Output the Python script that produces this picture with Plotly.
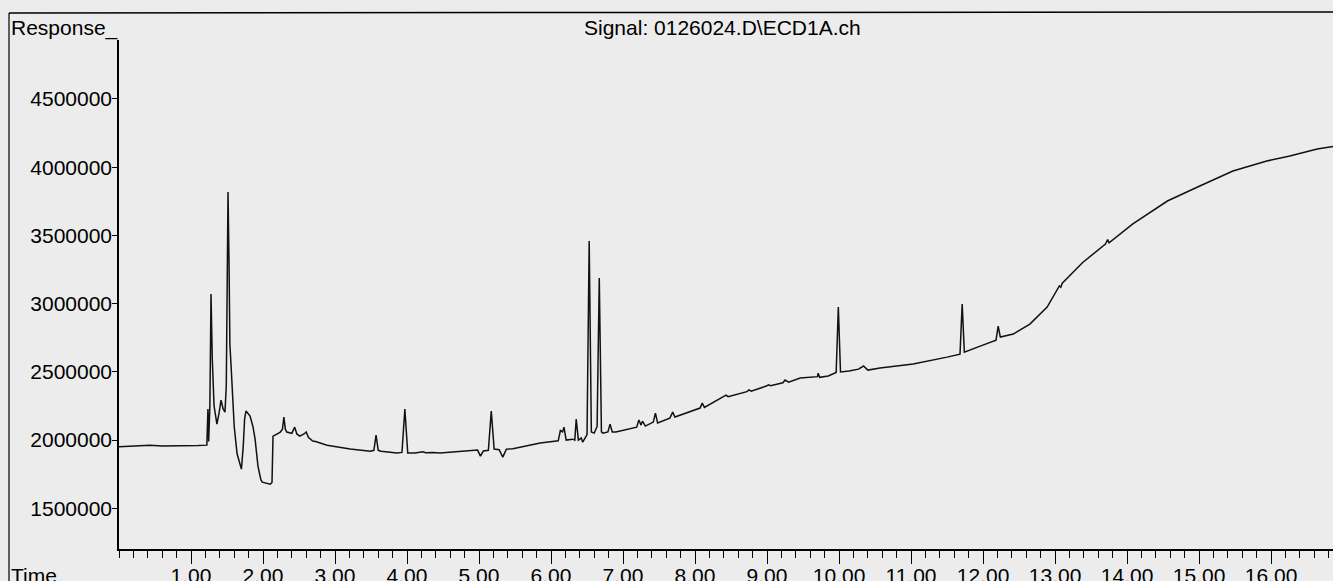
import plotly.graph_objects as go

# Retention time (min) and detector response
time_min = [
    0.00, 0.20, 0.43, 0.60, 0.85, 1.10, 1.22, 1.235, 1.245, 1.262, 1.278, 1.295, 1.32, 1.36,
    1.39, 1.417, 1.445, 1.472, 1.49, 1.514, 1.528, 1.54, 1.556, 1.57, 1.60, 1.64, 1.70,
    1.725, 1.745, 1.764, 1.80, 1.82, 1.86, 1.89, 1.93, 1.97, 1.99, 2.05, 2.10, 2.125,
    2.139, 2.16, 2.20, 2.24, 2.27, 2.29, 2.31, 2.33, 2.40, 2.44, 2.47, 2.51, 2.57, 2.60,
    2.63, 2.69, 2.73, 2.89, 3.21, 3.49, 3.54, 3.57, 3.60, 3.64, 3.86, 3.93, 3.97, 4.01,
    4.11, 4.22, 4.26, 4.36, 4.46, 4.90, 4.98, 5.02, 5.06, 5.13, 5.17, 5.21, 5.28, 5.33,
    5.38, 5.47, 5.85, 6.10, 6.13, 6.16, 6.18, 6.21, 6.30, 6.33, 6.35, 6.38, 6.42, 6.44,
    6.48, 6.50, 6.53, 6.56, 6.60, 6.64, 6.67, 6.70, 6.72, 6.79, 6.82, 6.85, 6.90, 7.19,
    7.22, 7.25, 7.27, 7.31, 7.42, 7.45, 7.48, 7.65, 7.69, 7.72, 8.07, 8.10, 8.13, 8.39,
    8.43, 8.46, 8.72, 8.75, 8.78, 8.99, 9.02, 9.05, 9.22, 9.25, 9.30, 9.46, 9.70, 9.71,
    9.73, 9.85, 9.96, 9.99, 10.02, 10.14, 10.27, 10.34, 10.40, 10.57, 11.03, 11.50, 11.68,
    11.71, 11.74, 11.96, 12.18, 12.21, 12.24, 12.42, 12.65, 12.89, 13.03, 13.06, 13.08,
    13.10, 13.38, 13.70, 13.73, 13.75, 14.08, 14.56, 15.01, 15.47, 15.94, 16.26, 16.64, 16.86,
]
response = [
    1952000, 1955000, 1962000, 1957000, 1956000, 1960000, 1963000, 2227000, 1990000, 2250000,
    3070000, 2600000, 2250000, 2117000, 2200000, 2293000, 2230000, 2205000, 2400000, 3818000,
    3300000, 2700000, 2550000, 2380000, 2100000, 1900000, 1787000, 1950000, 2160000, 2213000,
    2190000, 2176000, 2100000, 2007000, 1809000, 1710000, 1692000, 1682000, 1677000, 1690000,
    2029000, 2035000, 2050000, 2059000, 2080000, 2169000, 2080000, 2059000, 2050000, 2095000,
    2045000, 2029000, 2045000, 2059000, 2020000, 1993000, 1990000, 1963000, 1934000, 1919000,
    1925000, 2037000, 1925000, 1919000, 1905000, 1910000, 2227000, 1905000, 1905000, 1915000,
    1908000, 1910000, 1905000, 1922000, 1927000, 1883000, 1920000, 1925000, 2212000, 1935000,
    1930000, 1875000, 1934000, 1936000, 1978000, 1995000, 2070000, 2060000, 2095000, 2000000,
    2007000, 2000000, 2154000, 2000000, 2015000, 1985000, 2030000, 2040000, 3459000, 2060000,
    2051000, 2100000, 3188000, 2060000, 2051000, 2060000, 2117000, 2059000, 2059000, 2095000,
    2147000, 2110000, 2139000, 2103000, 2132000, 2198000, 2125000, 2161000, 2205000, 2169000,
    2235000, 2271000, 2240000, 2315000, 2330000, 2318000, 2355000, 2368000, 2358000, 2396000,
    2405000, 2398000, 2420000, 2440000, 2425000, 2455000, 2465000, 2490000, 2460000, 2470000,
    2495000, 2975000, 2499000, 2506000, 2520000, 2543000, 2513000, 2528000, 2557000, 2608000,
    2630000, 2997000, 2645000, 2689000, 2733000, 2836000, 2755000, 2777000, 2850000, 2975000,
    3100000, 3130000, 3120000, 3150000, 3300000, 3437000, 3470000, 3445000, 3584000, 3752000,
    3862000, 3972000, 4045000, 4082000, 4133000, 4152000,
]

x_tick_vals = [1, 2, 3, 4, 5, 6, 7, 8, 9, 10, 11, 12, 13, 14, 15, 16]
x_tick_text = ["1.00", "2.00", "3.00", "4.00", "5.00", "6.00", "7.00", "8.00",
               "9.00", "10.00", "11.00", "12.00", "13.00", "14.00", "15.00", "16.00"]
y_tick_vals = [1500000, 2000000, 2500000, 3000000, 3500000, 4000000, 4500000]
y_tick_text = ["1500000", "2000000", "2500000", "3000000", "3500000", "4000000", "4500000"]

title_text = "Signal: 0126024.D\\ECD1A.ch"

W, H = 1333, 581
L, R, T, B = 119, 0, 40, 32
pw, ph = W - L - R, H - T - B


def px_x(p):
    return (p - L) / pw


def px_y(p):
    return (H - B - p) / ph


FONT = "Liberation Sans, Arial, sans-serif"
FS = 21
BG = "#ececec"

fig = go.Figure(go.Scatter(
    x=time_min, y=response, mode="lines",
    line=dict(color="#111111", width=1.5), hoverinfo="skip",
))

fig.update_layout(
    width=W, height=H,
    margin=dict(l=L, r=R, t=T, b=B, pad=0, autoexpand=False),
    paper_bgcolor=BG, plot_bgcolor=BG,
    showlegend=False,
    font=dict(family=FONT, size=FS, color="black"),
    xaxis=dict(
        range=[0, 16.86], showgrid=False, zeroline=False, automargin=False,
        showline=True, linecolor="black", linewidth=1.5,
        tickmode="array", tickvals=x_tick_vals, ticktext=x_tick_text,
        ticks="outside", ticklen=13, tickwidth=1.2, tickcolor="black",
        tickfont=dict(family=FONT, size=FS, color="black"),
        ticklabelstandoff=-6,
        minor=dict(tickmode="linear", tick0=0, dtick=0.2, ticks="outside",
                   ticklen=7, tickwidth=1, tickcolor="black", showgrid=False),
    ),
    yaxis=dict(
        range=[1202000, 4932000], showgrid=False, zeroline=False, automargin=False,
        showline=True, linecolor="black", linewidth=1.5,
        tickmode="array", tickvals=y_tick_vals, ticktext=y_tick_text,
        ticks="outside", ticklen=5, tickwidth=1, tickcolor="black",
        tickfont=dict(family=FONT, size=FS, color="black"),
        ticklabelstandoff=-4,
    ),
    shapes=[
        dict(type="line", xref="paper", yref="paper",
             x0=px_x(9), x1=px_x(9), y0=px_y(13), y1=px_y(H + 5),
             line=dict(color="black", width=1.2)),
        dict(type="line", xref="paper", yref="paper",
             x0=px_x(9), x1=px_x(W + 5), y0=px_y(13), y1=px_y(12),
             line=dict(color="black", width=1.5)),
    ],
    annotations=[
        dict(text="Response_", xref="paper", yref="paper", x=px_x(9), y=px_y(28),
             xanchor="left", yanchor="middle", showarrow=False,
             font=dict(family=FONT, size=FS, color="black")),
        dict(text=title_text, xref="paper", yref="paper", x=px_x(722), y=px_y(27),
             xanchor="center", yanchor="middle", showarrow=False,
             font=dict(family=FONT, size=FS, color="black")),
        dict(text="Time", xref="paper", yref="paper", x=px_x(9), y=px_y(562),
             xanchor="left", yanchor="top", showarrow=False,
             font=dict(family=FONT, size=FS, color="black")),
    ],
)

fig.write_html("out.html")
